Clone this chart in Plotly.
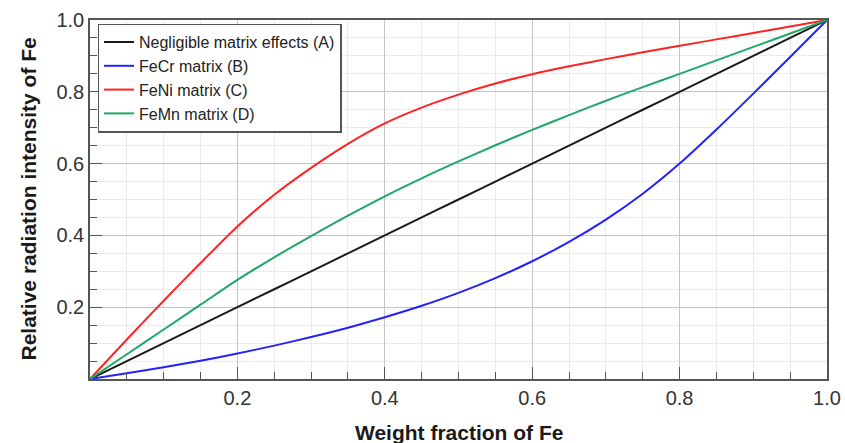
import plotly.graph_objects as go

# Weight fraction of Fe
weight_fraction = [0.0, 0.05, 0.1, 0.15, 0.2, 0.25, 0.3, 0.35, 0.4, 0.45, 0.5,
                   0.55, 0.6, 0.65, 0.7, 0.75, 0.8, 0.85, 0.9, 0.95, 1.0]

negligible_A = [0.0, 0.05, 0.1, 0.15, 0.2, 0.25, 0.3, 0.35, 0.4, 0.45, 0.5,
                0.55, 0.6, 0.65, 0.7, 0.75, 0.8, 0.85, 0.9, 0.95, 1.0]
fecr_B = [0.0, 0.016, 0.033, 0.051, 0.071, 0.093, 0.117, 0.143, 0.172, 0.204, 0.240,
          0.281, 0.328, 0.382, 0.444, 0.516, 0.600, 0.695, 0.795, 0.897, 1.0]
feni_C = [0.0, 0.110, 0.218, 0.323, 0.425, 0.513, 0.588, 0.655, 0.712, 0.756, 0.792,
          0.823, 0.849, 0.871, 0.891, 0.910, 0.928, 0.946, 0.964, 0.982, 1.0]
femn_D = [0.0, 0.069, 0.138, 0.207, 0.276, 0.339, 0.398, 0.455, 0.509, 0.559, 0.606,
          0.651, 0.694, 0.735, 0.775, 0.813, 0.850, 0.8875, 0.925, 0.9625, 1.0]

series_names = ["Negligible matrix effects (A)", "FeCr matrix (B)",
                "FeNi matrix (C)", "FeMn matrix (D)"]
series_values = [negligible_A, fecr_B, feni_C, femn_D]
series_colors = ["#1a1a1a", "#2222ff", "#ff2222", "#1fa866"]

tick_vals = [0.2, 0.4, 0.6, 0.8, 1.0]
tick_text = ["0.2", "0.4", "0.6", "0.8", "1.0"]

x_title = "Weight fraction of Fe"
y_title = "Relative radiation intensity of Fe"

fig = go.Figure()
for name, vals, col in zip(series_names, series_values, series_colors):
    fig.add_trace(go.Scatter(
        x=weight_fraction, y=vals, mode="lines", name=name,
        line=dict(color=col, width=2, shape="spline", smoothing=0.8),
    ))

axis_common = dict(
    range=[0, 1],
    automargin=False,
    tickmode="array", tickvals=tick_vals, ticktext=tick_text,
    ticks="inside", ticklen=12, tickwidth=1.2, tickcolor="#555",
    showline=True, linecolor="#555", linewidth=1.5, mirror=True,
    showgrid=True, gridcolor="#c4c4c4", gridwidth=1,
    zeroline=False,
    tickfont=dict(family="Liberation Sans, Arial", size=20, color="#333"),
    minor=dict(dtick=0.05, tick0=0, ticks="inside", ticklen=7, tickwidth=1,
               tickcolor="#555", showgrid=True, gridcolor="#ebebeb", gridwidth=1),
    fixedrange=True,
)

fig.update_xaxes(**axis_common)
fig.update_yaxes(**axis_common)

fig.update_layout(
    width=845, height=443,
    margin=dict(l=90, r=18, t=20, b=64),
    paper_bgcolor="white", plot_bgcolor="white",
    font=dict(family="Liberation Sans, Arial", color="#222"),
    legend=dict(
        x=0.0102, y=0.99, xanchor="left", yanchor="top",
        bgcolor="white", bordercolor="#555", borderwidth=1.5,
        font=dict(family="Liberation Sans, Arial", size=16, color="#222"),
    ),
    annotations=[
        dict(text="<b>" + x_title + "</b>", xref="paper", yref="paper",
             x=0.5, y=0, xanchor="center", yanchor="middle", yshift=-53,
             showarrow=False,
             font=dict(family="Liberation Sans, Arial", size=21, color="#1a1a1a")),
        dict(text="<b>" + y_title + "</b>", xref="paper", yref="paper",
             x=0, y=0.5, xanchor="center", yanchor="middle", xshift=-62,
             textangle=-90, showarrow=False,
             font=dict(family="Liberation Sans, Arial", size=21, color="#1a1a1a")),
    ],
)

fig.write_html("out.html")
